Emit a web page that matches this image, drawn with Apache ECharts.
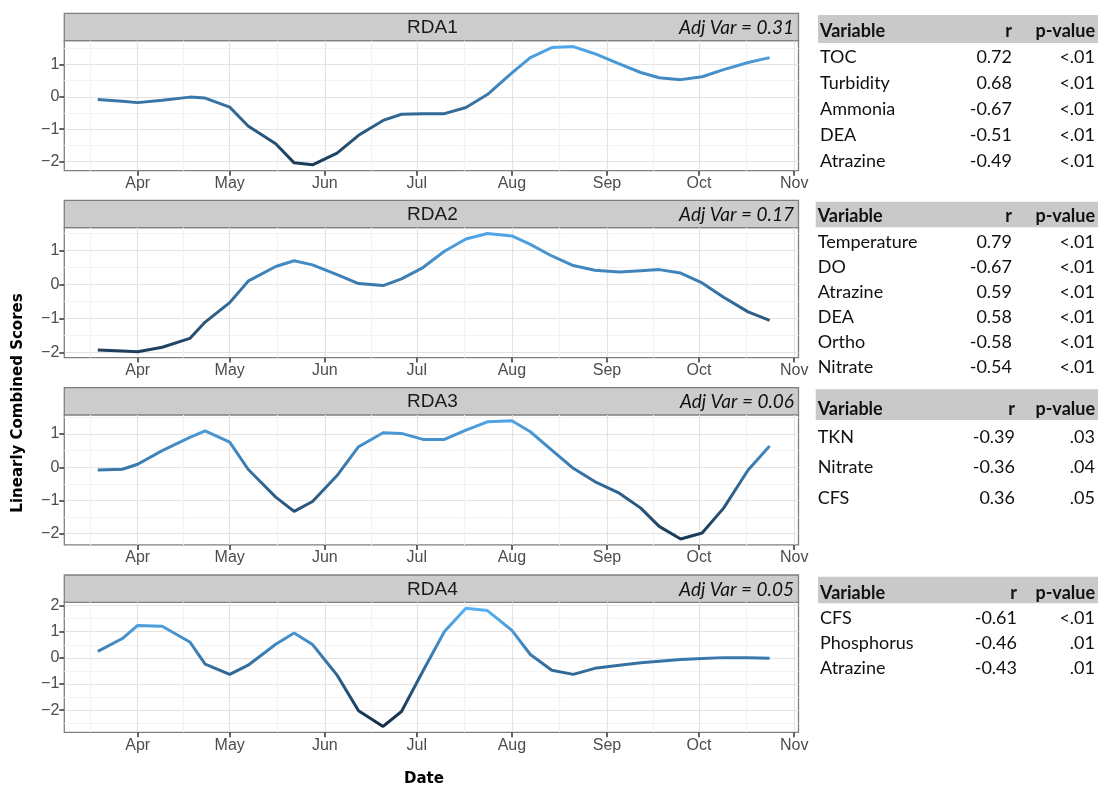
<!DOCTYPE html>
<html>
<head>
<meta charset="utf-8">
<script src="https://cdn.jsdelivr.net/npm/echarts@6/dist/echarts.min.js"></script>
<style>
  html, body { margin: 0; padding: 0; background: #fff; }
  #chart { width: 1100px; height: 787px; }
</style>
</head>
<body>
<div id="chart"></div>
<script>
// sampling dates (shared by the 4 RDA axes)
const sampleDates = ['2013-03-19', '2013-03-27', '2013-04-01', '2013-04-09', '2013-04-18', '2013-04-23',
  '2013-05-01', '2013-05-07', '2013-05-16', '2013-05-22', '2013-05-28', '2013-06-05', '2013-06-12',
  '2013-06-20', '2013-06-26', '2013-07-03', '2013-07-10', '2013-07-17', '2013-07-24', '2013-08-01',
  '2013-08-07', '2013-08-14', '2013-08-21', '2013-08-28', '2013-09-05', '2013-09-12', '2013-09-18',
  '2013-09-25', '2013-10-02', '2013-10-09', '2013-10-17', '2013-10-24']

const rda1 = [-0.08, -0.14, -0.18, -0.11, -0.01, -0.04, -0.32, -0.9, -1.45, -2.04, -2.1, -1.74, -1.19,
  -0.73, -0.54, -0.52, -0.52, -0.33, 0.07, 0.74, 1.21, 1.52, 1.55, 1.33, 1.02, 0.75, 0.59, 0.53, 0.62,
  0.84, 1.06, 1.21]
const rda2 = [-1.92, -1.95, -1.97, -1.84, -1.58, -1.1, -0.53, 0.1, 0.53, 0.7, 0.58, 0.29, 0.03, -0.03,
  0.17, 0.5, 0.98, 1.34, 1.5, 1.43, 1.18, 0.84, 0.56, 0.42, 0.37, 0.41, 0.44, 0.34, 0.05, -0.37, -0.8, -1.05]
const rda3 = [-0.08, -0.06, 0.09, 0.5, 0.9, 1.1, 0.76, -0.06, -0.9, -1.33, -1.03, -0.25, 0.62, 1.04, 1.02,
  0.84, 0.84, 1.12, 1.37, 1.4, 1.07, 0.52, -0.03, -0.43, -0.78, -1.23, -1.78, -2.16, -1.98, -1.23, -0.08, 0.64]
const rda4 = [0.25, 0.74, 1.24, 1.21, 0.61, -0.24, -0.63, -0.28, 0.52, 0.95, 0.51, -0.66, -2.02, -2.62,
  -2.05, -0.5, 1.01, 1.9, 1.81, 1.05, 0.13, -0.47, -0.63, -0.4, -0.28, -0.19, -0.13, -0.06, -0.02, 0.01,
  0.01, -0.01]

const panelNames = ['RDA1', 'RDA2', 'RDA3', 'RDA4']
const adjVar = ['0.31', '0.17', '0.06', '0.05']
const monthStarts = ['2013-04-01', '2013-05-01', '2013-06-01', '2013-07-01', '2013-08-01', '2013-09-01', '2013-10-01', '2013-11-01']
const monthLabels = ['Apr', 'May', 'Jun', 'Jul', 'Aug', 'Sep', 'Oct', 'Nov']
const yTicks = [-2, -1, 0, 1, 2]

// correlation tables
const tableVars = [
  ['TOC', 'Turbidity', 'Ammonia', 'DEA', 'Atrazine'],
  ['Temperature', 'DO', 'Atrazine', 'DEA', 'Ortho', 'Nitrate'],
  ['TKN', 'Nitrate', 'CFS'],
  ['CFS', 'Phosphorus', 'Atrazine']
]
const tableR = [
  ['0.72', '0.68', '-0.67', '-0.51', '-0.49'],
  ['0.79', '-0.67', '0.59', '0.58', '-0.58', '-0.54'],
  ['-0.39', '-0.36', '0.36'],
  ['-0.61', '-0.46', '-0.43']
]
const tableP = [
  ['<.01', '<.01', '<.01', '<.01', '<.01'],
  ['<.01', '<.01', '<.01', '<.01', '<.01', '<.01'],
  ['.03', '.04', '.05'],
  ['<.01', '.01', '.01']
]

// layout
const PLOT_LEFT = 64.3
const PLOT_RIGHT = 798.5
const PLOT_H = 130
const STRIP_H = 27.3
const plotTops = [40.7, 227.6, 414.9, 602.3]
const tableLayout = [
  { bgTop: 15, bgH: 28, head: 31, row0: 56.7, step: 26.2, rX: 1012, left: 818 },
  { bgTop: 201.7, bgH: 25.6, head: 216, row0: 241.7, step: 25, rX: 1012, left: 815.7 },
  { bgTop: 389.3, bgH: 30.7, head: 409, row0: 436.7, step: 30.8, rX: 1015, left: 815.7 },
  { bgTop: 576.7, bgH: 26.6, head: 593.3, row0: 618.3, step: 25, rX: 1017, left: 818 }
]

const ts = s => { const p = s.split('-').map(Number); return new Date(p[0], p[1] - 1, p[2]).getTime() }
const monthTs = monthStarts.map(ts)
const allMonths = [ts('2013-03-01')].concat(monthTs)
const midTs = allMonths.slice(1).map((t, i) => (t + allMonths[i]) / 2)
const xMin = new Date(2013, 2, 8, 2).getTime()
const xMax = new Date(2013, 10, 2, 10).getTime()

const series = [rda1, rda2, rda3, rda4]
const allVals = [].concat(rda1, rda2, rda3, rda4)

const chart = echarts.init(document.getElementById('chart'))

const grids = []
const xAxes = []
const yAxes = []
const seriesOpt = []
const graphics = []

const tickStyle = { color: '#333333', width: 1.5 }
const labelFont = { color: '#4D4D4D', fontSize: 16, fontFamily: '"Liberation Sans", Arial, sans-serif' }

const monthName = v => {
  let k = 0
  monthTs.forEach((t, j) => { if (Math.abs(t - v) < Math.abs(monthTs[k] - v)) k = j })
  return monthLabels[k]
}

series.forEach((vals, i) => {
  const lo = Math.min(...vals)
  const hi = Math.max(...vals)
  const pad = (hi - lo) * 0.05
  const yMin = lo - pad
  const yMax = hi + pad
  const yMajor = yTicks.filter(v => v >= yMin && v <= yMax)
  const yMinor = yTicks.map(v => v - 0.5).concat([2.5]).filter(v => v >= yMin && v <= yMax)

  grids.push({
    left: PLOT_LEFT, width: PLOT_RIGHT - PLOT_LEFT, top: plotTops[i], height: PLOT_H,
    show: true, borderColor: '#7F7F7F', borderWidth: 1.3, backgroundColor: '#fff'
  })
  // dates are kept as timestamps on a value axis so the month breaks can be placed exactly
  xAxes.push({
    type: 'value', gridIndex: i, min: xMin, max: xMax, position: 'bottom',
    axisLine: { show: false, onZero: false },
    axisTick: { length: 5, lineStyle: tickStyle, customValues: monthTs },
    axisLabel: Object.assign({ customValues: monthTs, margin: 5, hideOverlap: false, formatter: monthName }, labelFont),
    splitLine: { show: true, lineStyle: { color: '#E3E3E3', width: 1.2 } }
  })
  xAxes.push({
    type: 'value', gridIndex: i, min: xMin, max: xMax, position: 'top',
    axisLine: { show: false, onZero: false },
    axisTick: { show: false, customValues: midTs },
    axisLabel: { show: false, customValues: midTs },
    splitLine: { show: true, lineStyle: { color: '#F3F3F3', width: 1.2 } }
  })
  yAxes.push({
    type: 'value', gridIndex: i, min: yMin, max: yMax, position: 'left',
    axisLine: { show: false, onZero: false },
    axisTick: { length: 5, lineStyle: tickStyle, customValues: yMajor },
    axisLabel: Object.assign({
      customValues: yMajor, margin: 5,
      formatter: v => String(Math.round(v)).replace('-', '\u2212')
    }, labelFont),
    splitLine: { show: true, lineStyle: { color: '#E3E3E3', width: 1.2 } }
  })
  yAxes.push({
    type: 'value', gridIndex: i, min: yMin, max: yMax, position: 'right',
    axisLine: { show: false, onZero: false },
    axisTick: { show: false, customValues: yMinor },
    axisLabel: { show: false, customValues: yMinor },
    splitLine: { show: true, lineStyle: { color: '#F3F3F3', width: 1.2 } }
  })
  seriesOpt.push({
    type: 'line', name: panelNames[i], xAxisIndex: 2 * i, yAxisIndex: 2 * i,
    data: sampleDates.map((d, j) => [ts(d), vals[j]]),
    symbol: 'none', showSymbol: false, lineStyle: { width: 3 }, z: 5
  })

  // facet strip
  const sTop = plotTops[i] - STRIP_H
  graphics.push({
    type: 'rect', shape: { x: PLOT_LEFT, y: sTop, width: PLOT_RIGHT - PLOT_LEFT, height: STRIP_H },
    style: { fill: '#CCCCCC', stroke: '#7F7F7F', lineWidth: 1.3 }
  })
  graphics.push({
    type: 'text', x: (PLOT_LEFT + PLOT_RIGHT) / 2 + 1, y: sTop + STRIP_H / 2 + 1,
    style: { text: panelNames[i], fill: '#1A1A1A', font: '19px "Liberation Sans", Arial, sans-serif',
      align: 'center', verticalAlign: 'middle' }
  })
  graphics.push({
    type: 'text', x: 794, y: sTop + STRIP_H / 2 + 1,
    style: { text: 'Adj Var = ' + adjVar[i], fill: '#111', font: 'italic 19px Lato, sans-serif',
      align: 'right', verticalAlign: 'middle' }
  })

  // correlation table
  const L = tableLayout[i]
  graphics.push({
    type: 'rect', shape: { x: L.left, y: L.bgTop, width: 1098 - L.left, height: L.bgH },
    style: { fill: '#C9C9C9' }
  })
  const txt = (s, x, y, align, bold) => ({
    type: 'text', x: x, y: y,
    style: { text: s, fill: '#111', font: (bold ? 'bold ' : '') + '18px Lato, sans-serif',
      align: align, verticalAlign: 'middle' }
  })
  graphics.push(txt('Variable', L.left + 2, L.head, 'left', true))
  graphics.push(txt('r', L.rX, L.head, 'right', true))
  graphics.push(txt('p-value', 1095, L.head, 'right', true))
  tableVars[i].forEach((v, j) => {
    const y = L.row0 + j * L.step
    graphics.push(txt(v, L.left + 2, y, 'left', false))
    graphics.push(txt(tableR[i][j], L.rX, y, 'right', false))
    graphics.push(txt(tableP[i][j], 1095, y, 'right', false))
  })
})

// axis titles
graphics.push({
  type: 'text', x: 18, y: 403, rotation: Math.PI / 2,
  style: { text: 'Linearly Combined Scores', fill: '#000', font: 'bold 15px "DejaVu Sans", sans-serif',
    align: 'center', verticalAlign: 'middle' }
})
graphics.push({
  type: 'text', x: 424, y: 779,
  style: { text: 'Date', fill: '#000', font: 'bold 15px "DejaVu Sans", sans-serif',
    align: 'center', verticalAlign: 'middle' }
})

chart.setOption({
  animation: false,
  backgroundColor: '#fff',
  grid: grids,
  xAxis: xAxes,
  yAxis: yAxes,
  visualMap: {
    type: 'continuous', show: false, dimension: 1, seriesIndex: [0, 1, 2, 3],
    min: Math.min(...allVals), max: Math.max(...allVals),
    inRange: { color: ['#132B43', '#56B1F7'] }
  },
  series: seriesOpt,
  graphic: { elements: graphics }
})
</script>
</body>
</html>
